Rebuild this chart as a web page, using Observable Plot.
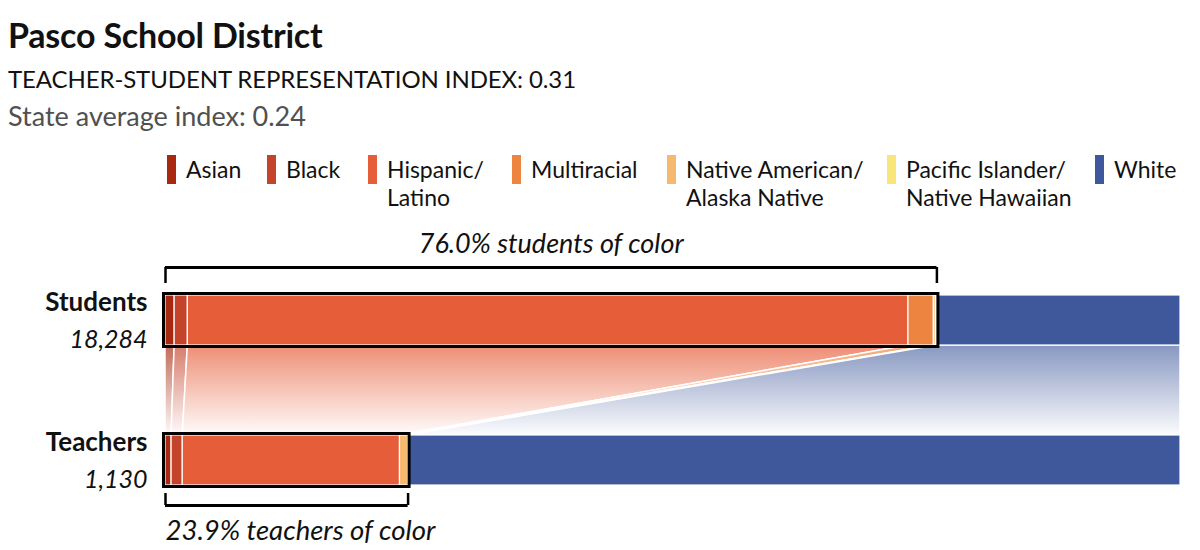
<!DOCTYPE html>
<html>
<head>
<meta charset="utf-8">
<script src="https://cdn.jsdelivr.net/npm/d3@7"></script>
<script src="https://cdn.jsdelivr.net/npm/@observablehq/plot@0.6"></script>
<style>
  html, body { margin: 0; padding: 0; background: #fff; }
  body { width: 1200px; height: 550px; position: relative; overflow: hidden; font-family: Lato, "Open Sans", sans-serif; color: #111; }
  .abs { position: absolute; white-space: nowrap; line-height: 1; }
  #title { left: 8px; top: 18px; font-size: 34px; font-weight: 700; letter-spacing: -0.2px; }
  #sub { left: 8px; top: 67px; font-size: 24px; letter-spacing: -0.1px; }
  #state { left: 8px; top: 102px; font-size: 27px; color: #505050; }
  .leg { position: absolute; top: 155px; }
  .sw { position: absolute; left: 0; top: 0; width: 9px; height: 29px; }
  .lt { position: absolute; left: 19px; top: 0; font-size: 23px; line-height: 28px; white-space: nowrap; }
  #chart { position: absolute; left: 0; top: 220px; }
</style>
</head>
<body>
<div id="title" class="abs"></div>
<div id="sub" class="abs"></div>
<div id="state" class="abs"></div>
<div id="legend"></div>
<div id="chart"></div>
<script>
// ---- data ----
const titleText = "Pasco School District";
const indexText = "TEACHER-STUDENT REPRESENTATION INDEX: 0.31";
const stateText = "State average index: 0.24";

const categories = ["Asian", "Black", "Hispanic/Latino", "Multiracial", "Native American/Alaska Native", "Pacific Islander/Native Hawaiian", "White"];
const legendLines = [["Asian"], ["Black"], ["Hispanic/", "Latino"], ["Multiracial"], ["Native American/", "Alaska Native"], ["Pacific Islander/", "Native Hawaiian"], ["White"]];
const colors = ["#a8290f", "#c4432b", "#e65d39", "#ed8440", "#f5b970", "#f8e67a", "#3e589b"];

const groups = ["Students", "Teachers"];
const groupCounts = [18284, 1130];
const studentPct = [0.9, 1.3, 71.0, 2.5, 0.2, 0.1, 24.0];
const teacherPct = [0.6, 1.1, 21.4, 0.0, 0.8, 0.0, 76.1];
const ofColorLabels = ["students of color", "teachers of color"];

// ---- header & legend ----
document.getElementById("title").textContent = titleText;
document.getElementById("sub").textContent = indexText;
document.getElementById("state").textContent = stateText;
const legendX = [167, 267, 368, 512, 667, 887, 1095];
const legend = document.getElementById("legend");
categories.forEach((c, i) => {
  const d = document.createElement("div");
  d.className = "leg";
  d.style.left = legendX[i] + "px";
  d.innerHTML = `<div class="sw" style="background:${colors[i]}"></div><div class="lt">${legendLines[i].join("<br>")}</div>`;
  legend.appendChild(d);
});

// ---- layout (scale units: bar height = 1) ----
const rowTop = [0, 2.8];
const pcts = [studentPct, teacherPct];

// stacked segments
const segments = [];
pcts.forEach((arr, g) => {
  let acc = 0;
  arr.forEach((v, i) => {
    segments.push({group: groups[g], cat: categories[i], color: colors[i], x1: acc, x2: acc + v, y1: rowTop[g], y2: rowTop[g] + 1, idx: i});
    acc += v;
  });
});
const seg = (g, i) => segments.find(s => s.group === groups[g] && s.idx === i);

// connecting bands
const bands = categories.map((c, i) => [
  {y: rowTop[0] + 1, x1: seg(0, i).x1, x2: seg(0, i).x2},
  {y: rowTop[1], x1: seg(1, i).x1, x2: seg(1, i).x2}
]);

const soc = pcts.map(arr => d3.sum(arr.slice(0, arr.length - 1)));
const outlines = groups.map((g, k) => ({x1: 0, x2: soc[k], y1: rowTop[k], y2: rowTop[k] + 1}));

// brackets
const brTop = {h: rowTop[0] - 0.56, v: rowTop[0] - 0.24};
const brBot = {h: rowTop[1] + 1.4, v: rowTop[1] + 1.16};

const rowLabels = groups.map((g, k) => ({name: g, count: d3.format(",")(groupCounts[k]), y: rowTop[k]}));

const marks = [];
bands.forEach((b, i) => {
  marks.push(Plot.areaX(b, {x1: "x1", x2: "x2", y: "y", fill: `url(#band-${i})`, stroke: "white", strokeWidth: 1.5}));
});
marks.push(
  Plot.rect(segments.filter(s => s.x2 > s.x1), {x1: "x1", x2: "x2", y1: "y1", y2: "y2", fill: "color", stroke: "white", strokeWidth: 1.2}),
  Plot.rect(outlines, {x1: "x1", x2: "x2", y1: "y1", y2: "y2", fill: "none", stroke: "black", strokeWidth: 3, inset: -1.5}),
  // top bracket
  Plot.ruleY([brTop.h], {x1: 0, x2: soc[0], stroke: "black", strokeWidth: 3}),
  Plot.ruleX([0, soc[0]], {y1: brTop.h, y2: brTop.v, stroke: "black", strokeWidth: 2.5}),
  // bottom bracket
  Plot.ruleY([brBot.h], {x1: 0, x2: soc[1], stroke: "black", strokeWidth: 3}),
  Plot.ruleX([0, soc[1]], {y1: brBot.v, y2: brBot.h, stroke: "black", strokeWidth: 2.5}),
  Plot.text([`${soc[0].toFixed(1)}% ${ofColorLabels[0]}`], {x: soc[0] / 2, y: rowTop[0] - 1.03, text: d => d, fontStyle: "italic", fontSize: 27, textAnchor: "middle", fill: "#111"}),
  Plot.text([`${soc[1].toFixed(1)}% ${ofColorLabels[1]}`], {x: 0, y: rowTop[1] + 1.91, text: d => d, fontStyle: "italic", fontSize: 27.5, textAnchor: "start", fill: "#111"}),
  Plot.text(rowLabels, {x: 0, y: d => d.y + 0.134, text: "name", fontWeight: "bold", fontSize: 26, textAnchor: "end", dx: -18, fill: "#111"}),
  Plot.text(rowLabels, {x: 0, y: d => d.y + 0.88, text: "count", fontStyle: "italic", fontSize: 25, textAnchor: "end", dx: -18, fill: "#111"})
);

const chart = Plot.plot({
  width: 1200,
  height: 330,
  margin: 0,
  style: {fontFamily: "Lato, 'Open Sans', sans-serif", background: "white"},
  x: {domain: [0, 100], range: [165, 1180], axis: null},
  y: {domain: [0, 3.8], range: [75, 265], axis: null},
  color: {type: "identity"},
  marks
});

// gradients for connecting bands
const defs = d3.select(chart).insert("defs", ":first-child");
colors.forEach((c, i) => {
  const g = defs.append("linearGradient").attr("id", `band-${i}`).attr("x1", 0).attr("y1", 0).attr("x2", 0).attr("y2", 1);
  g.append("stop").attr("offset", "0%").attr("stop-color", c).attr("stop-opacity", i === colors.length - 1 ? 0.62 : 0.7);
  g.append("stop").attr("offset", "100%").attr("stop-color", c).attr("stop-opacity", 0.02);
});

document.getElementById("chart").appendChild(chart);
</script>
</body>
</html>
